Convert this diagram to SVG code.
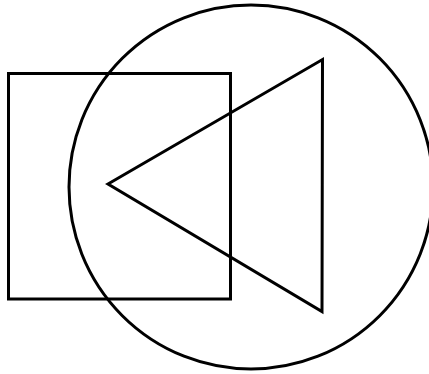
<svg xmlns="http://www.w3.org/2000/svg" width="429" height="374" viewBox="0 0 429 374">
<style>.s{fill:none;stroke:#000;stroke-width:3;stroke-linejoin:miter}</style>
<rect width="429" height="374" fill="#fff"/>
<g id="square"><rect class="s" x="8.5" y="73.5" width="222" height="225.5"/></g>
<g id="circle"><circle class="s" cx="251" cy="187" r="182" stroke-width="2.5"/></g>
<g id="triangle"><polygon class="s" points="108,184 322.5,59.5 322,311.5"/></g>
<g id="connectors"></g>
</svg>
